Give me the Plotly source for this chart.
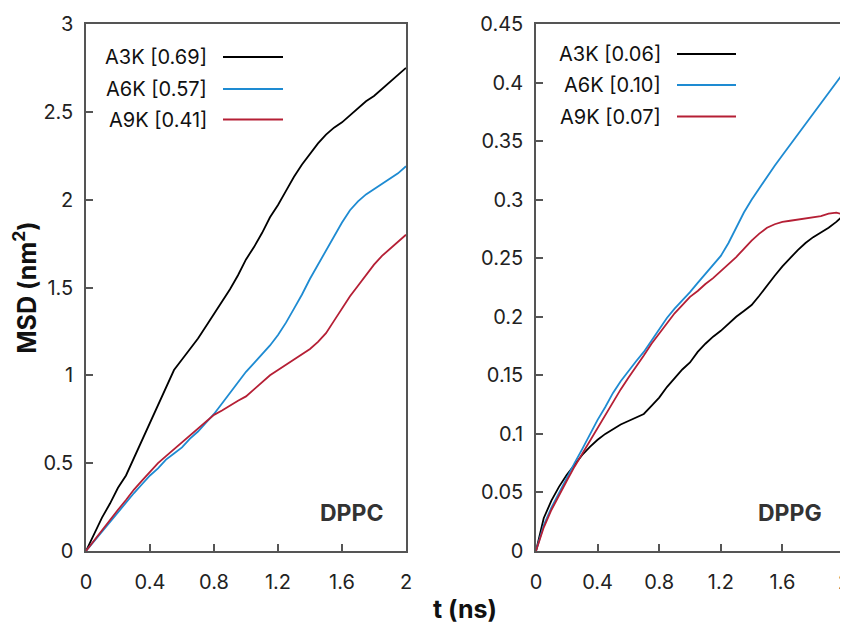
import plotly.graph_objects as go

# ---------------- data ----------------
t_ns = [0.0, 0.05, 0.1, 0.15, 0.2, 0.25, 0.3, 0.35, 0.4, 0.45, 0.5, 0.55, 0.6, 0.65, 0.7,
        0.75, 0.8, 0.85, 0.9, 0.95, 1.0, 1.05, 1.1, 1.15, 1.2, 1.25, 1.3, 1.35, 1.4, 1.45,
        1.5, 1.55, 1.6, 1.65, 1.7, 1.75, 1.8, 1.85, 1.9, 1.95, 2.0]

dppc_a3k = [0, 0.10, 0.19, 0.27, 0.36, 0.43, 0.53, 0.64, 0.74, 0.83, 0.93, 1.03, 1.09, 1.15,
            1.21, 1.28, 1.35, 1.42, 1.49, 1.57, 1.66, 1.73, 1.81, 1.90, 1.97, 2.05, 2.13,
            2.20, 2.26, 2.32, 2.37, 2.41, 2.44, 2.48, 2.52, 2.56, 2.59, 2.63, 2.67, 2.71, 2.75]
dppc_a6k = [0, 0.055, 0.11, 0.17, 0.225, 0.28, 0.33, 0.38, 0.43, 0.47, 0.52, 0.555, 0.59,
            0.64, 0.68, 0.73, 0.78, 0.84, 0.90, 0.96, 1.02, 1.07, 1.12, 1.17, 1.23, 1.30,
            1.38, 1.46, 1.55, 1.63, 1.71, 1.79, 1.87, 1.94, 1.99, 2.03, 2.06, 2.09, 2.12,
            2.15, 2.19]
dppc_a9k = [0, 0.06, 0.12, 0.18, 0.235, 0.29, 0.35, 0.40, 0.45, 0.50, 0.54, 0.58, 0.62,
            0.66, 0.70, 0.74, 0.775, 0.80, 0.83, 0.855, 0.88, 0.92, 0.96, 1.00, 1.03, 1.06,
            1.09, 1.12, 1.15, 1.19, 1.24, 1.31, 1.38, 1.45, 1.51, 1.57, 1.63, 1.68, 1.72,
            1.76, 1.80]

dppg_a3k = [0, 0.028, 0.043, 0.055, 0.065, 0.074, 0.082, 0.089, 0.095, 0.100, 0.104, 0.108,
            0.111, 0.114, 0.117, 0.124, 0.131, 0.140, 0.148, 0.155, 0.161, 0.170, 0.177,
            0.183, 0.188, 0.194, 0.200, 0.205, 0.210, 0.218, 0.227, 0.235, 0.243, 0.250,
            0.257, 0.263, 0.268, 0.272, 0.276, 0.281, 0.287]
dppg_a6k = [0, 0.022, 0.037, 0.050, 0.063, 0.075, 0.087, 0.100, 0.112, 0.123, 0.135, 0.145,
            0.154, 0.162, 0.170, 0.180, 0.189, 0.199, 0.207, 0.214, 0.221, 0.229, 0.237,
            0.244, 0.252, 0.263, 0.276, 0.289, 0.300, 0.310, 0.320, 0.329, 0.338, 0.347,
            0.356, 0.365, 0.374, 0.382, 0.391, 0.400, 0.409]
dppg_a9k = [0, 0.020, 0.035, 0.048, 0.060, 0.072, 0.083, 0.095, 0.106, 0.117, 0.128, 0.138,
            0.148, 0.157, 0.167, 0.177, 0.186, 0.195, 0.203, 0.210, 0.217, 0.222, 0.228,
            0.233, 0.239, 0.245, 0.251, 0.258, 0.265, 0.271, 0.276, 0.279, 0.281, 0.282,
            0.283, 0.284, 0.285, 0.286, 0.288, 0.289, 0.287]

series_names = ["A3K", "A6K", "A9K"]
dppc_legend = ["A3K [0.69]", "A6K [0.57]", "A9K [0.41]"]
dppg_legend = ["A3K [0.06]", "A6K [0.10]", "A9K [0.07]"]
panel_labels = ["DPPC", "DPPG"]

x_tickvals = [0, 0.4, 0.8, 1.2, 1.6, 2]
x_ticktext = ["0", "0.4", "0.8", "1.2", "1.6", "2"]
y1_tickvals = [0, 0.5, 1, 1.5, 2, 2.5, 3]
y1_ticktext = ["0", "0.5", "1", "1.5", "2", "2.5", "3"]
y2_tickvals = [0, 0.05, 0.1, 0.15, 0.2, 0.25, 0.3, 0.35, 0.4, 0.45]
y2_ticktext = ["0", "0.05", "0.1", "0.15", "0.2", "0.25", "0.3", "0.35", "0.4", "0.45"]

# ---------------- styling ----------------
# The page body has an 8px margin, so the figure is drawn 8px smaller and all
# positions below are given in window pixels minus that offset.
OFF = 8
W, H = 848 - OFF, 625 - OFF
colors = ["#000000", "#1e8bd2", "#b51f35"]
FONT = "Inter"
AX = "#555555"

def fx(px):
    return (px - OFF) / W

PT, PB = 24 - OFF, 551 - OFF
def py(v):
    return (PB - (v - OFF)) / (PB - PT)

fig = go.Figure()

for vals, c, n in zip([dppc_a3k, dppc_a6k, dppc_a9k], colors, series_names):
    fig.add_trace(go.Scatter(x=t_ns, y=vals, mode="lines", name=n + " DPPC",
                             line=dict(color=c, width=1.8), xaxis="x", yaxis="y",
                             showlegend=False))
for vals, c, n in zip([dppg_a3k, dppg_a6k, dppg_a9k], colors, series_names):
    fig.add_trace(go.Scatter(x=t_ns, y=vals, mode="lines", name=n + " DPPG",
                             line=dict(color=c, width=1.8), xaxis="x2", yaxis="y2",
                             showlegend=False))

axis_common = dict(showline=True, linecolor=AX, linewidth=1.5, mirror=True,
                   ticks="inside", ticklen=7, tickwidth=1.5, tickcolor=AX,
                   showgrid=False, zeroline=False, automargin=False,
                   ticklabeloverflow="allow",
                   tickfont=dict(family=FONT, size=20, color="#222222"))
xaxis_extra = dict(ticklabelstandoff=12)
yaxis_extra = dict(ticklabelstandoff=7)

fig.update_layout(
    width=W, height=H,
    margin=dict(l=0, r=0, t=PT, b=H - PB),
    paper_bgcolor="white", plot_bgcolor="white",
    showlegend=False,
    xaxis=dict(domain=[fx(86), fx(406)], range=[0, 2], tickvals=x_tickvals,
               ticktext=x_ticktext, anchor="y", **axis_common, **xaxis_extra),
    yaxis=dict(domain=[0, 1], range=[0, 3], tickvals=y1_tickvals, ticktext=y1_ticktext,
               anchor="x",
               title=dict(text="<b>MSD (nm<sup>2</sup>)</b>", standoff=6,
                          font=dict(family=FONT, size=25, color="#111111")),
               **axis_common, **yaxis_extra),
    xaxis2=dict(domain=[fx(536), fx(844)], range=[0, 2], tickvals=x_tickvals,
                ticktext=x_ticktext, anchor="y2", **axis_common, **xaxis_extra),
    yaxis2=dict(domain=[0, 1], range=[0, 0.45], tickvals=y2_tickvals,
                ticktext=y2_ticktext, anchor="x2", **axis_common, **yaxis_extra),
)

# legends (text right-aligned, line sample after text)
legend_specs = [
    (dppc_legend, fx(209), fx(223), fx(283), [57, 89, 119.5]),
    (dppg_legend, fx(663), fx(677), fx(736), [54, 85, 116.5]),
]
for labels, tx, lx0, lx1, rows in legend_specs:
    for lab, c, ry in zip(labels, colors, rows):
        fig.add_annotation(x=tx, y=py(ry), xref="paper", yref="paper", text=lab,
                           showarrow=False, xanchor="right", yanchor="middle",
                           font=dict(family=FONT, size=20, color="#111111"))
        fig.add_shape(type="line", xref="paper", yref="paper", x0=lx0, x1=lx1,
                      y0=py(ry), y1=py(ry), line=dict(color=c, width=2))

for lab, cx in zip(panel_labels, [fx(351), fx(790)]):
    fig.add_annotation(x=cx, y=py(513), xref="paper", yref="paper", text="<b>" + lab + "</b>",
                       showarrow=False, xanchor="center", yanchor="middle",
                       font=dict(family=FONT, size=23, color="#333333"))

fig.add_annotation(x=fx(465), y=py(609), xref="paper", yref="paper", text="<b>t (ns)</b>",
                   showarrow=False, xanchor="center", yanchor="middle",
                   font=dict(family=FONT, size=25, color="#111111"))

fig.write_html("out.html")
